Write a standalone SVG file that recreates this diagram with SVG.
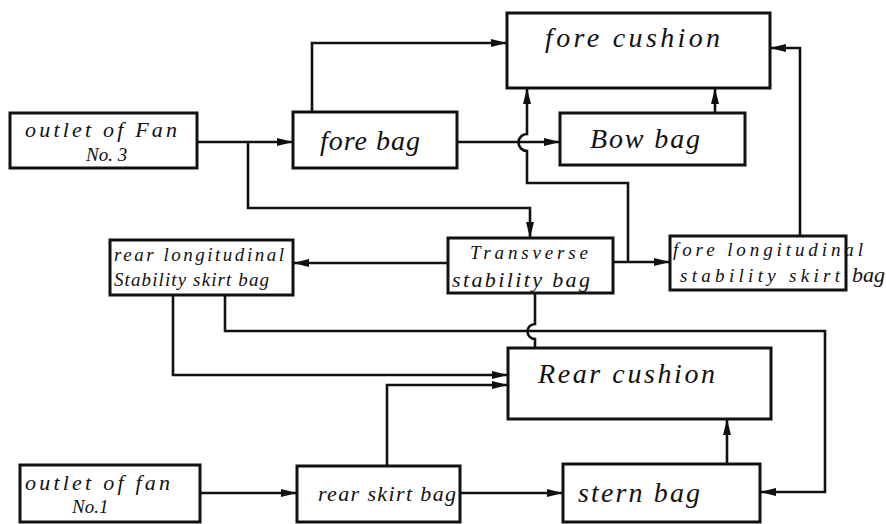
<svg xmlns="http://www.w3.org/2000/svg" width="886" height="524" viewBox="0 0 886 524">
<style>
.box{fill:#fff;stroke:#111;stroke-width:3}
.ln{fill:none;stroke:#111;stroke-width:2.6;stroke-linejoin:miter}
.t{font-family:"Liberation Serif","DejaVu Serif",serif;font-style:italic;fill:#111}
.s20{font-size:22px}
.s17{font-size:19px}
.s24{font-size:28px}
</style>
<defs>
<marker id="ah" markerUnits="userSpaceOnUse" markerWidth="17" markerHeight="10" refX="16" refY="5" orient="auto">
<path d="M0,1 L16,5 L0,9 Z" fill="#111"/>
</marker>
</defs>
<rect width="886" height="524" fill="#fff"/>
<g id="connectors">
<path class="ln" d="M197,142 H293" marker-end="url(#ah)"/>
<path class="ln" d="M248,142 V208 H530 V238" marker-end="url(#ah)"/>
<path class="ln" d="M312,112 V43 H507" marker-end="url(#ah)"/>
<path class="ln" d="M457,142 H560" marker-end="url(#ah)"/>
<path class="ln" d="M613,262 H670" marker-end="url(#ah)"/>
<path class="ln" d="M628,262 V183 H527 V151 A8,8 0 0 1 527,134 V88" marker-end="url(#ah)"/>
<path class="ln" d="M715,113 V88" marker-end="url(#ah)"/>
<path class="ln" d="M800,236 V48 H770" marker-end="url(#ah)"/>
<path class="ln" d="M448,263 H293" marker-end="url(#ah)"/>
<path class="ln" d="M173,295 V375 H508" marker-end="url(#ah)"/>
<path class="ln" d="M225,295 V331 H825 V492 H760" marker-end="url(#ah)"/>
<path class="ln" d="M535,293 V324 A7,7 0 0 0 535,339 V348"/>
<path class="ln" d="M387,466 V385 H508" marker-end="url(#ah)"/>
<path class="ln" d="M200,493 H297" marker-end="url(#ah)"/>
<path class="ln" d="M460,493 H563" marker-end="url(#ah)"/>
<path class="ln" d="M727,464 V419" marker-end="url(#ah)"/>
</g>
<g id="outlet3">
<rect class="box" x="10" y="113" width="187" height="55"/>
<text class="t s20" x="25" y="137" textLength="152" lengthAdjust="spacing">outlet of Fan</text>
<text class="t s17" x="86" y="161">No. 3</text>
</g>
<g id="forebag">
<rect class="box" x="293" y="112" width="164" height="56"/>
<text class="t s24" x="320" y="150" textLength="100" lengthAdjust="spacing">fore bag</text>
</g>
<g id="forecushion">
<rect class="box" x="507" y="13" width="263" height="75"/>
<text class="t s24" x="545" y="47" textLength="175" lengthAdjust="spacing">fore cushion</text>
</g>
<g id="bowbag">
<rect class="box" x="560" y="113" width="185" height="52"/>
<text class="t s24" x="590" y="148" textLength="110" lengthAdjust="spacing">Bow bag</text>
</g>
<g id="rearlong">
<rect class="box" x="110" y="240" width="183" height="55"/>
<text class="t s17" x="114" y="261" textLength="170" lengthAdjust="spacing">rear longitudinal</text>
<text class="t s17" x="114" y="286" textLength="155" lengthAdjust="spacing">Stability skirt bag</text>
</g>
<g id="transverse">
<rect class="box" x="448" y="238" width="165" height="55"/>
<text class="t s17" x="470" y="259" textLength="118" lengthAdjust="spacing">Transverse</text>
<text class="t s20" x="452" y="287" textLength="138" lengthAdjust="spacing">stability bag</text>
</g>
<g id="forelong">
<rect class="box" x="670" y="236" width="176" height="54"/>
<text class="t s17" x="673" y="256" textLength="190" lengthAdjust="spacing">fore longitudinal</text>
<text class="t s17" x="680" y="282" textLength="160" lengthAdjust="spacing">stability skirt</text>
<text class="t s20" x="852" y="282">bag</text>
</g>
<g id="rearcushion">
<rect class="box" x="508" y="348" width="263" height="71"/>
<text class="t s24" x="538" y="383" textLength="177" lengthAdjust="spacing">Rear cushion</text>
</g>
<g id="outlet1">
<rect class="box" x="20" y="465" width="180" height="57"/>
<text class="t s20" x="25" y="490" textLength="145" lengthAdjust="spacing">outlet of fan</text>
<text class="t s17" x="72" y="513">No.1</text>
</g>
<g id="rearskirt">
<rect class="box" x="297" y="466" width="163" height="56"/>
<text class="t s20" x="318" y="501" textLength="138" lengthAdjust="spacing">rear skirt bag</text>
</g>
<g id="sternbag">
<rect class="box" x="563" y="464" width="197" height="58"/>
<text class="t s24" x="578" y="502" textLength="122" lengthAdjust="spacing">stern bag</text>
</g>
</svg>
